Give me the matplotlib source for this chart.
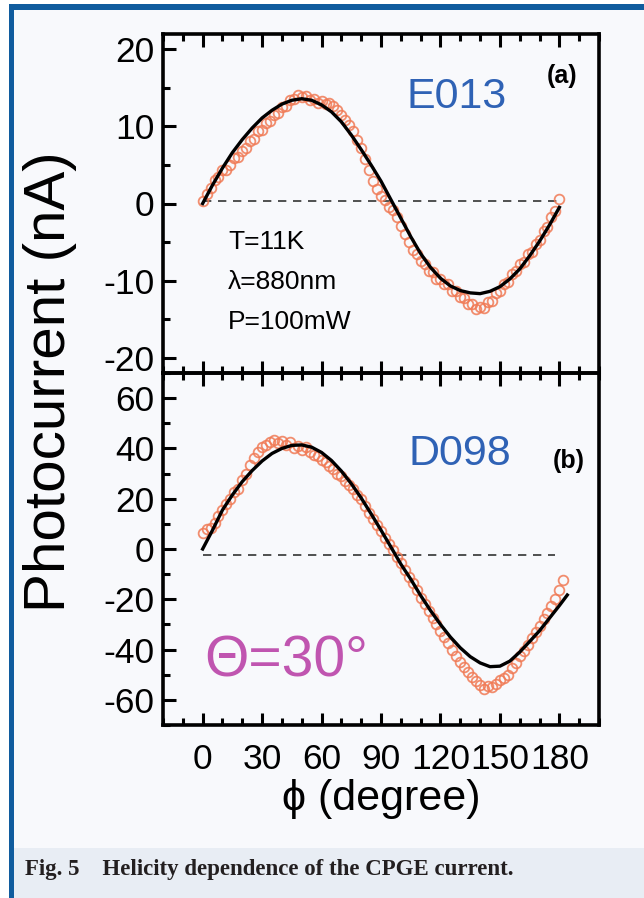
import matplotlib
matplotlib.use('Agg')
import matplotlib.pyplot as plt
from matplotlib.patches import Rectangle
from matplotlib.ticker import MultipleLocator
import numpy as np

plt.rcParams['font.family'] = ['Liberation Sans', 'DejaVu Sans']
plt.rcParams['axes.unicode_minus'] = False

# ---------------- data ----------------
phi_a = np.arange(0, 182, 2)
cur_a = [0.3, 1.2, 2.0, 3.1, 3.5, 4.4, 4.3, 5.0, 5.9, 6.0,
         6.8, 7.2, 8.1, 8.4, 9.4, 9.6, 10.5, 10.7, 11.5, 11.8,
         12.5, 12.6, 13.4, 13.5, 14.1, 13.8, 14.0, 13.4, 13.6, 13.1,
         13.3, 12.9, 13.0, 12.6, 12.2, 11.5, 10.9, 10.2, 9.4, 8.2,
         7.2, 5.8, 4.4, 2.9, 1.9, 1.0, 0.4, -0.4, -0.9, -1.8,
         -2.9, -4.0, -5.0, -6.0, -6.6, -7.4, -7.8, -8.8, -8.9, -9.8,
         -9.8, -10.5, -10.5, -11.3, -11.4, -12.2, -12.3, -13.1, -13.1, -13.7,
         -13.4, -13.6, -12.8, -12.6, -11.6, -11.4, -10.4, -10.2, -9.1, -8.8,
         -7.8, -7.6, -6.6, -6.3, -5.2, -4.8, -3.6, -3.1, -1.7, -1.0,
         0.6]

fit_phi_a = [0, 5, 10, 15, 20, 25, 30, 35, 40, 45, 50, 55, 60, 65, 70, 75, 80, 85, 90,
             95, 100, 105, 110, 115, 120, 125, 130, 135, 140, 145, 150, 155, 160, 165,
             170, 175, 180]
fit_a = [0.0, 2.4, 4.6, 6.6, 8.3, 9.8, 11.1, 12.1, 12.9, 13.4, 13.6, 13.4, 12.8, 11.9,
         10.6, 8.9, 7.0, 5.0, 2.9, 0.5, -1.9, -4.3, -6.5, -8.3, -9.7, -10.7, -11.3,
         -11.6, -11.7, -11.4, -10.8, -9.8, -8.5, -6.8, -4.9, -2.8, -0.5]

phi_b = np.arange(0, 184, 2)
cur_b = [6.5, 7.8, 8.5, 10.5, 13.0, 15.5, 18.0, 20.0, 22.5, 24.0,
         27.5, 30.0, 33.5, 36.0, 38.5, 40.5, 41.5, 42.5, 43.5, 42.0,
         43.0, 41.5, 42.5, 40.0, 41.0, 39.5, 40.5, 38.5, 37.5, 37.0,
         35.5, 34.5, 33.0, 32.0, 30.0, 29.0, 27.0, 25.5, 24.0, 21.5,
         20.0, 17.0, 14.5, 12.0, 9.5, 7.0, 4.5, 2.0, -0.5, -3.0,
         -5.5, -8.5, -11.0, -13.5, -16.5, -19.5, -22.0, -24.5, -27.5, -30.0,
         -32.5, -35.0, -37.5, -40.0, -42.5, -45.0, -47.0, -49.0, -51.0, -52.5,
         -54.0, -55.5, -54.5, -55.0, -53.5, -52.0, -51.5, -50.0, -47.5, -45.5,
         -42.5, -40.5, -38.0, -35.5, -33.0, -30.5, -28.0, -25.5, -22.5, -20.0,
         -16.5, -12.5]

fit_phi_b = [0, 5, 10, 15, 20, 25, 30, 35, 40, 45, 50, 55, 60, 65, 70, 75, 80, 85, 90,
             95, 100, 105, 110, 115, 120, 125, 130, 135, 140, 145, 150, 155, 160, 165,
             170, 175, 180, 184]
fit_b = [0.0, 7.5, 15.5, 21.5, 26.8, 31.2, 35.0, 38.0, 40.0, 41.2, 41.4, 40.5, 38.4,
         35.2, 31.0, 26.0, 20.3, 14.0, 7.5, 0.8, -6.0, -12.0, -18.5, -24.5, -30.0,
         -35.0, -39.3, -42.8, -45.3, -46.8, -46.6, -44.6, -41.0, -36.8, -32.5, -27.5,
         -22.5, -18.3]

base_a = 0.3
base_b = -2.4
xticks = [0, 30, 60, 90, 120, 150, 180]

# ---------------- figure ----------------
W, H = 644, 898
fig = plt.figure(figsize=(W / 100, H / 100), dpi=100)
fig.patch.set_facecolor('white')

# page background, caption band and blue frame
fig.patches.append(Rectangle((14 / W, 0), 1, 1 - 10 / H, transform=fig.transFigure,
                             facecolor='#f8f9fc', edgecolor='none', zorder=-10))
fig.patches.append(Rectangle((14 / W, 0), 1, 50 / H, transform=fig.transFigure,
                             facecolor='#e8edf4', edgecolor='none', zorder=-9))
fig.patches.append(Rectangle((9 / W, 1 - 10 / H), 1, 6 / H, transform=fig.transFigure,
                             facecolor='#105c9e', edgecolor='none', zorder=-8))
fig.patches.append(Rectangle((9 / W, 0), 5 / W, 1 - 4 / H, transform=fig.transFigure,
                             facecolor='#105c9e', edgecolor='none', zorder=-8))

left = 163 / W
width = 436 / W
ax1 = fig.add_axes([left, 1 - 373 / H, width, 339 / H])
ax2 = fig.add_axes([left, 1 - 725 / H, width, 352 / H])

circ = dict(ls='none', marker='o', ms=7, mfc='none', mec='#f07a55', mew=1.3, alpha=0.85, zorder=2)

for ax in (ax1, ax2):
    ax.set_facecolor('none')
    ax.set_xlim(-20, 200)
    ax.xaxis.set_major_locator(MultipleLocator(30))
    ax.xaxis.set_minor_locator(MultipleLocator(10))
    ax.tick_params(axis='both', which='both', direction='in', top=True, right=False,
                   labelsize=25.5, width=2.2)
    ax.tick_params(which='major', length=9)
    ax.tick_params(which='minor', length=5)
    ax.tick_params(axis='y', pad=6)
    for s in ax.spines.values():
        s.set_linewidth(2.6)

# panel (a)
ax1.plot(phi_a, cur_a, **circ)
ax1.plot(fit_phi_a, fit_a, color='black', lw=2.4, zorder=3)
ax1.plot([0, 182], [base_a, base_a], color='#333333', lw=1.2, ls=(0, (5, 4)), zorder=1)
ax1.set_ylim(-22, 22)
ax1.yaxis.set_major_locator(MultipleLocator(10))
ax1.yaxis.set_minor_locator(MultipleLocator(5))
ax1.set_yticks([-20, -10, 0, 10, 20])
ax1.tick_params(axis='x', labelbottom=False)
ax1.text(0.674, 0.815, 'E013', transform=ax1.transAxes, fontsize=31, color='#2f62b5',
         ha='center', va='center')
ax1.text(0.915, 0.875, '(a)', transform=ax1.transAxes, fontsize=18, fontweight='bold',
         ha='center', va='center')
for i, s in enumerate(['T=11K', '\u03bb=880nm', 'P=100mW']):
    ax1.text(0.149, 0.385 - i * 0.118, s, transform=ax1.transAxes, fontsize=19,
             ha='left', va='center')

# panel (b)
ax2.plot(phi_b, cur_b, **circ)
ax2.plot(fit_phi_b, fit_b, color='black', lw=2.4, zorder=3)
ax2.plot([0, 178], [base_b, base_b], color='#333333', lw=1.2, ls=(0, (5, 4)), zorder=1)
ax2.set_ylim(-70, 70)
ax2.yaxis.set_major_locator(MultipleLocator(20))
ax2.yaxis.set_minor_locator(MultipleLocator(10))
ax2.set_yticks([-60, -40, -20, 0, 20, 40, 60])
ax2.set_xticks(xticks)
ax2.tick_params(axis='x', labeltop=False, pad=13)
ax2.text(0.68, 0.77, 'D098', transform=ax2.transAxes, fontsize=31, color='#2f62b5',
         ha='center', va='center')
ax2.text(0.93, 0.75, '(b)', transform=ax2.transAxes, fontsize=18, fontweight='bold',
         ha='center', va='center')
ax2.text(0.095, 0.18, '\u0398=30\u00b0', transform=ax2.transAxes, fontsize=41,
         color='#c055b0', ha='left', va='center')
ax2.set_xlabel('\u03d5 (degree)', fontsize=31, labelpad=2)

fig.text(50 / W, 1 - 382 / H, 'Photocurrent (nA)', rotation=90, fontsize=42,
         ha='center', va='center')

fig.text(25 / W, 1 - 869 / H, 'Fig. 5    Helicity dependence of the CPGE current.',
         family=['Liberation Serif', 'DejaVu Serif'], fontweight='bold', fontsize=16.5,
         color='#231f20', ha='left', va='center')

fig.savefig('out.png', dpi=100, facecolor=fig.get_facecolor())
